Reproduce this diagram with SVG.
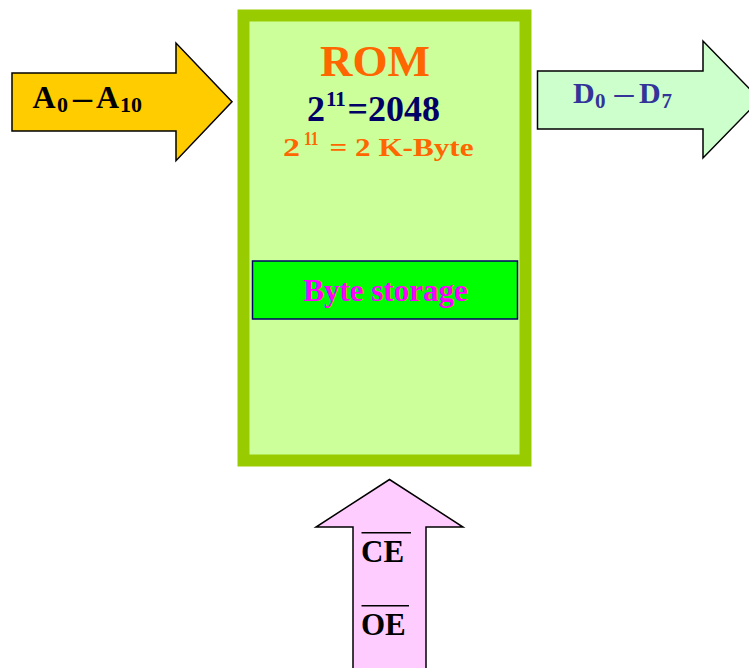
<svg xmlns="http://www.w3.org/2000/svg" width="749" height="668" viewBox="0 0 749 668">
<style>
text{font-family:"Liberation Serif","Times New Roman",serif;font-weight:bold}
.arrow{stroke:#000;stroke-width:1.5;stroke-linejoin:miter}
</style>
<rect width="749" height="668" fill="#fff"/>
<g id="rom">
<rect x="243.5" y="15.5" width="282" height="445" fill="#ccff99" stroke="#99cc00" stroke-width="12"/>
<text x="375" y="76" font-size="45" fill="#ff6600" text-anchor="middle">ROM</text>
<text x="307" y="120.7" font-size="36" fill="#000066">2</text>
<text x="326" y="106" font-size="21" fill="#000066">11</text>
<text x="347.5" y="120.7" font-size="36" fill="#000066">=2048</text>
<text x="283" y="156" font-size="26" fill="#ff6600" textLength="17" lengthAdjust="spacingAndGlyphs">2</text>
<text x="304" y="145" font-size="19" fill="#ff6600" textLength="14.5" lengthAdjust="spacingAndGlyphs">11</text>
<text x="329.5" y="156" font-size="26" fill="#ff6600" textLength="144" lengthAdjust="spacingAndGlyphs">= 2 K-Byte</text>
</g>
<g id="byte-storage">
<rect x="252.5" y="261" width="265" height="58" fill="#00ff00" stroke="#000066" stroke-width="1.5"/>
<text x="385.5" y="300.7" font-size="31" fill="#ff00ff" text-anchor="middle">Byte storage</text>
</g>
<g id="connectors">
<polygon class="arrow" fill="#ffcc00" points="12,73 176,73 176,43 232,101.7 176,160.7 176,131 12,131"/>
<polygon class="arrow" fill="#ccffcc" points="537.5,71 703,71 703,41 760,99.5 703,158 703,129 537.5,129"/>
<polygon class="arrow" fill="#ffccff" points="353,680 353,527 316,527 389.5,479.5 463,527 426,527 426,680"/>
</g>
<g id="address-label">
<text x="32.5" y="108.3" font-size="32" fill="#000">A</text>
<text x="57" y="112.3" font-size="22" fill="#000">0</text>
<text x="73" y="108.3" font-size="32" fill="#000" textLength="19" lengthAdjust="spacingAndGlyphs">–</text>
<text x="96" y="108.3" font-size="32" fill="#000">A</text>
<text x="120" y="112.3" font-size="22" fill="#000">10</text>
</g>
<g id="data-label">
<text x="573" y="103.3" font-size="30" fill="#333399">D</text>
<text x="595" y="108.3" font-size="21" fill="#333399">0</text>
<text x="614.5" y="103.3" font-size="30" fill="#333399" textLength="19" lengthAdjust="spacingAndGlyphs">–</text>
<text x="639" y="103.3" font-size="30" fill="#333399">D</text>
<text x="661.5" y="108.3" font-size="21" fill="#333399">7</text>
</g>
<g id="control-label">
<text x="361" y="561.7" font-size="31" fill="#000">CE</text>
<line x1="361.5" y1="532.7" x2="411" y2="532.7" stroke="#000" stroke-width="1.6"/>
<text x="361" y="635" font-size="31" fill="#000">OE</text>
<line x1="361.5" y1="605.7" x2="409" y2="605.7" stroke="#000" stroke-width="1.6"/>
</g>
</svg>
